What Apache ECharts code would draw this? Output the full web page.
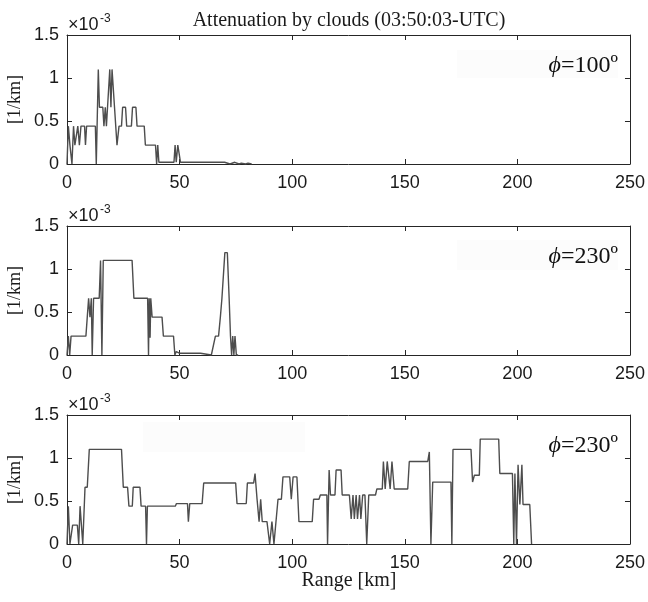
<!DOCTYPE html>
<html><head><meta charset="utf-8">
<script src="https://cdn.jsdelivr.net/npm/echarts@6/dist/echarts.min.js"></script>
<style>html,body{margin:0;padding:0;background:#fff}#c{width:648px;height:602px}</style>
</head><body><div id="c"></div><script>
// ---- data (attenuation values in units of 1e-3 1/km) ----
const titleText = 'Attenuation by clouds (03:50:03-UTC)';
const xAxisName = 'Range [km]';
const yAxisName = '[1/km]';
const xTicks = [0, 50, 100, 150, 200, 250];
const yTicks = [0, 0.5, 1, 1.5];
const panelAngles = ['100º', '230º', '230º'];

const p1Range = [0,0.6,1.3,2.2,2.9,3.5,4.2,4.8,5.5,6.2,
  7.8,8.2,8.7,12.6,13.0,13.9,14.4,15.9,16.4,17.0,
  17.5,18.0,18.3,19.0,19.5,20.0,20.6,21.1,22.2,23.1,
  24.2,24.7,26.0,26.5,28.6,29.1,30.6,31.1,34.3,34.8,
  39.3,39.8,40.3,40.8,47.5,48.0,48.5,49.2,49.8,50.4,
  65.6,70.0,70.3,72.4,72.7,74.5,74.8,76.4,76.7,77.4,
  77.7,79.3,79.6,80.4,80.7,82];
const p1Atten = [0,0.44,0.22,0,0.44,0.22,0.22,0.44,0.22,0.44,
  0.44,0.22,0.44,0.44,0,1.1,0.66,0.66,0.44,0.66,
  0.44,0.66,0.66,1.1,0.66,1.1,1.1,0.66,0.22,0.44,
  0.44,0.66,0.66,0.44,0.44,0.66,0.66,0.44,0.44,0.22,
  0.22,0,0.22,0.02,0.02,0.22,0.02,0.22,0.22,0.02,
  0.02,0.02,0,0,0.02,0.02,0,0,0.01,0.01,
  0,0,0.01,0.01,0,0];

const p2Range = [0,0.6,1.2,1.8,8.4,9.0,9.6,10.2,10.8,11.2,
  11.8,14.3,14.9,15.5,16.1,28.9,29.7,35.8,36.2,36.5,
  36.9,37.2,37.8,42.2,42.8,47.3,47.9,48.5,50.1,59.3,
  59.6,64.1,65.9,67.3,68.1,68.8,70.1,71.2,72.0,72.6,
  73.1,73.6,74.1,74.6,75.2,76];
const p2Atten = [0,0.22,0,0.22,0.22,0.44,0.66,0.44,0.66,0,
  0.66,0.66,1.1,0,1.1,1.1,0.66,0.66,0,0.66,
  0.2,0.66,0.44,0.44,0.22,0.22,0,0.04,0.02,0.02,
  0,0,0.22,0.22,0.44,0.66,1.19,1.19,0.66,0.22,
  0,0.22,0,0.22,0,0];

const p3Range = [0,0.6,1.3,2.5,4.6,5.2,5.8,6.5,7.0,8.0,
  9.0,9.9,24.2,25.0,26.9,27.5,29.0,29.4,32.4,32.9,
  34.9,35.3,35.7,48.1,48.6,53.5,53.9,54.5,60.0,60.7,
  74.9,75.5,79.6,80.1,82.9,83.5,84.4,85.3,86.0,86.7,
  88.8,90.0,91.0,91.9,93.7,95.2,95.9,98.9,99.6,100.4,
  102.1,103.0,108.9,109.5,111.9,112.5,115.4,115.7,116.4,117.0,
  119.0,119.5,121.7,122.2,125.4,126.2,127.0,127.6,128.4,129.0,
  129.9,130.5,131.3,132.3,133.1,134.0,137.0,137.6,140.0,140.5,
  141.3,142.2,143.5,144.3,145.3,146.1,151.3,152.0,160.2,160.9,
  161.6,162.4,170.5,170.9,171.4,179.4,180.1,180.9,183.1,183.5,
  191.7,192.2,197.8,198.4,198.9,199.6,200.3,201.1,202.0,202.5,
  205.5,206.3];
const p3Atten = [0,0.44,0,0.22,0.22,0,0.44,0.44,0,0.66,
  0.66,1.1,1.1,0.66,0.66,0.44,0.44,0.66,0.66,0.44,
  0.44,0,0.44,0.44,0.47,0.47,0.26,0.47,0.47,0.71,
  0.71,0.47,0.47,0.71,0.71,0.82,0.52,0.26,0.52,0.26,
  0.26,0,0.26,0,0.52,0.52,0.78,0.78,0.52,0.78,
  0.78,0.26,0.26,0.52,0.52,0.57,0.57,0,0.86,0.57,
  0.57,0.86,0.86,0.57,0.57,0.29,0.57,0.29,0.57,0.29,
  0.57,0.29,0.57,0.57,0,0.57,0.57,0.64,0.64,0.96,
  0.64,0.96,0.64,0.96,0.64,0.64,0.64,0.96,0.96,1.07,
  0,0.72,0.72,0,1.1,1.1,0.72,0.8,0.8,1.22,
  1.22,0.82,0.82,0,0.82,0,0.92,0.46,0.92,0.46,
  0.46,0];

const panels = [[p1Range, p1Atten], [p2Range, p2Atten], [p3Range, p3Atten]];

// ---- layout ----
const LEFT = 67, RIGHT = 17;
const tops = [35, 226, 415];
const H = 129;
const axisColor = '#262626';
const serif = '"Liberation Serif", "DejaVu Serif", serif';
const sans = '"Liberation Sans", Arial, sans-serif';

const grids = [], xAxes = [], yAxes = [], series = [], graphics = [];
tops.forEach((t, i) => {
  grids.push({ left: LEFT, right: RIGHT, top: t, height: H, containLabel: false });
  const common = { min: xTicks[0], max: xTicks[xTicks.length - 1], interval: xTicks[1] - xTicks[0], gridIndex: i,
    type: 'value', splitLine: { show: false },
    axisLine: { show: true, onZero: false, lineStyle: { color: axisColor, width: 1 } },
    axisTick: { show: true, inside: true, length: 5, lineStyle: { color: axisColor } } };
  xAxes.push(Object.assign({}, common, { position: 'bottom',
    axisLabel: { show: true, color: '#1a1a1a', fontSize: 18, fontFamily: sans, margin: 10 } }));
  xAxes.push(Object.assign({}, common, { position: 'top', axisLabel: { show: false } }));
  const ycommon = { min: yTicks[0], max: yTicks[yTicks.length - 1], interval: yTicks[1] - yTicks[0], gridIndex: i,
    type: 'value', splitLine: { show: false },
    axisLine: { show: true, onZero: false, lineStyle: { color: axisColor, width: 1 } },
    axisTick: { show: true, inside: true, length: 5, lineStyle: { color: axisColor } } };
  yAxes.push(Object.assign({}, ycommon, { position: 'left',
    axisLabel: { show: true, color: '#1a1a1a', fontSize: 18, fontFamily: sans, margin: 8 } }));
  yAxes.push(Object.assign({}, ycommon, { position: 'right', axisLabel: { show: false } }));

  const [xs, ys] = panels[i];
  series.push({ type: 'line', xAxisIndex: 2 * i, yAxisIndex: 2 * i, symbol: 'none', showSymbol: false,
    animation: false, lineStyle: { color: '#4d4d4d', width: 1.4 }, z: 3,
    data: xs.map((x, k) => [x, ys[k]]) });

  // multiplier
  graphics.push({ type: 'text', x: 68, y: t - 19, z: 10,
    style: { text: '×10', font: '18px ' + sans, fill: '#1a1a1a' } });
  graphics.push({ type: 'text', x: 100, y: t - 22, z: 10,
    style: { text: '-3', font: '12px ' + sans, fill: '#1a1a1a' } });
  // y axis name
  graphics.push({ type: 'text', x: 15, y: t + H / 2, rotation: Math.PI / 2, z: 10,
    style: { text: yAxisName, font: '18px ' + serif, fill: '#1a1a1a', align: 'center', verticalAlign: 'middle' } });
  // phi label
  graphics.push({ type: 'text', x: 618, y: t + 31, z: 10,
    style: { text: '{i|ϕ}{n|=' + panelAngles[i] + '}', align: 'right', verticalAlign: 'middle', fill: '#111',
      rich: { i: { font: 'italic 24px ' + serif, fill: '#111' }, n: { font: '24px ' + serif, fill: '#111' } } } });
});

// faint legend backgrounds
graphics.push({ type: 'rect', shape: { x: 457, y: 50, width: 161, height: 28 }, z: 0, style: { fill: '#fcfcfc' } });
graphics.push({ type: 'rect', shape: { x: 457, y: 240, width: 161, height: 30 }, z: 0, style: { fill: '#fcfcfc' } });
graphics.push({ type: 'rect', shape: { x: 143, y: 422, width: 162, height: 30 }, z: 0, style: { fill: '#fcfcfc' } });

// title and x name
graphics.push({ type: 'text', x: 349, y: 21, z: 10,
  style: { text: titleText, font: '20px ' + serif, fill: '#1a1a1a', align: 'center', verticalAlign: 'middle' } });
graphics.push({ type: 'text', x: 349, y: 581, z: 10,
  style: { text: xAxisName, font: '20px ' + serif, fill: '#1a1a1a', align: 'center', verticalAlign: 'middle' } });

const chart = echarts.init(document.getElementById('c'), null, { renderer: 'canvas' });
chart.setOption({
  animation: false,
  backgroundColor: '#fff',
  grid: grids, xAxis: xAxes, yAxis: yAxes, series: series,
  graphic: { elements: graphics }
});
</script></body></html>
